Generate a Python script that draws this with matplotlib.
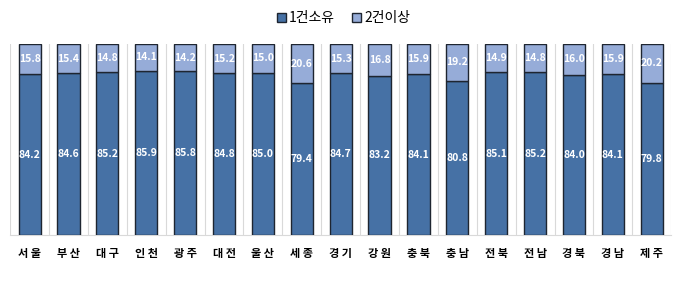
import numpy as np
import matplotlib
matplotlib.use("Agg")
import matplotlib.pyplot as plt
from matplotlib.patches import Patch

plt.rcParams['font.family'] = ['Noto Sans CJK KR', 'DejaVu Sans']

regions = ['서울', '부산', '대구', '인천', '광주', '대전', '울산', '세종', '경기',
           '강원', '충북', '충남', '전북', '전남', '경북', '경남', '제주']
one_house = [84.2, 84.6, 85.2, 85.9, 85.8, 84.8, 85.0, 79.4, 84.7,
             83.2, 84.1, 80.8, 85.1, 85.2, 84.0, 84.1, 79.8]
multi_house = [15.8, 15.4, 14.8, 14.1, 14.2, 15.2, 15.0, 20.6, 15.3,
               16.8, 15.9, 19.2, 14.9, 14.8, 16.0, 15.9, 20.2]

dark = '#4671a5'
light = '#96acd8'
edge = '#1e2530'

fig = plt.figure(figsize=(6.8, 2.84), dpi=100)
ax = fig.add_axes([0.015, 0.173, 0.972, 0.672])

x = np.arange(len(regions))
w = 0.57
ax.bar(x, one_house, w, color=dark, edgecolor=edge, linewidth=1.0, zorder=3)
ax.bar(x, multi_house, w, bottom=one_house, color=light, edgecolor=edge,
       linewidth=1.0, zorder=3)

for i in range(len(regions)):
    ax.text(x[i], one_house[i] / 2, f'{one_house[i]:.1f}', ha='center', va='center',
            color='white', fontsize=7.5, fontweight='bold', zorder=4)
    ax.text(x[i], one_house[i] + multi_house[i] / 2, f'{multi_house[i]:.1f}',
            ha='center', va='center', color='white', fontsize=7.5,
            fontweight='bold', zorder=4)

# category separators
for b in np.arange(len(regions) + 1) - 0.5:
    ax.axvline(b, color='#d9d9d9', linewidth=0.8, zorder=1)

ax.set_xlim(-0.5, len(regions) - 0.5)
ax.set_ylim(0, 100)
ax.set_yticks([])
ax.set_xticks(x)
ax.set_xticklabels([' '.join(r) for r in regions], fontsize=8, fontweight='bold')
ax.tick_params(axis='x', length=0, pad=9)
for s in ['top', 'left', 'right']:
    ax.spines[s].set_visible(False)
ax.spines['bottom'].set_color('#d9d9d9')

handles = [Patch(facecolor=dark, edgecolor=edge, label='1건소유'),
           Patch(facecolor=light, edgecolor=edge, label='2건이상')]
fig.legend(handles=handles, loc='center', bbox_to_anchor=(0.505, 0.935), ncol=2,
           frameon=False, fontsize=10, handlelength=0.7, handleheight=0.7,
           handletextpad=0.2, columnspacing=1.2)

fig.savefig('out.png', dpi=100)
